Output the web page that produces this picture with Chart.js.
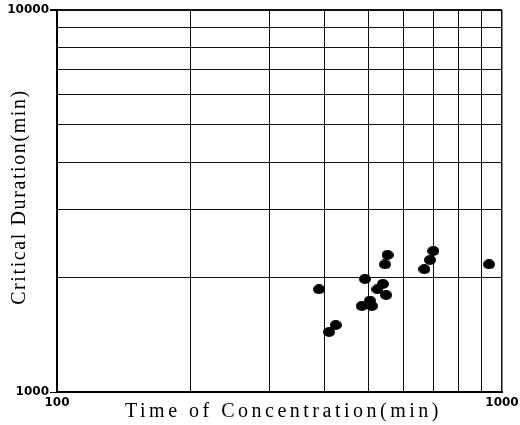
<!DOCTYPE html>
<html>
<head>
<meta charset="utf-8">
<script src="https://cdn.jsdelivr.net/npm/chart.js@4/dist/chart.umd.min.js"></script>
<style>
  html, body { margin: 0; padding: 0; background: #fff; }
  canvas { display: block; }
</style>
</head>
<body>
<canvas id="chart" width="520" height="425"></canvas>
<script>
// Observed watershed pairs: time of concentration vs critical duration (minutes)
const timeOfConcentration = [388, 409, 423, 492, 484, 505, 510, 525, 540, 549, 546, 553, 669, 689, 701, 935];
const criticalDuration    = [1857, 1436, 1497, 1976, 1679, 1734, 1679, 1857, 1918, 1794, 2159, 2284, 2096, 2216, 2340, 2159];

// Decade grid lines and the few labelled ticks
const xGridValues = [100, 200, 300, 400, 500, 600, 700, 800, 900, 1000];
const yGridValues = [1000, 2000, 3000, 4000, 5000, 6000, 7000, 8000, 9000, 10000];
const xTickLabels = [100, 1000];
const yTickLabels = [1000, 10000];

const xTitle = 'Time of Concentration(min)';
const yTitle = 'Critical Duration(min)';

// Slightly flattened round marker
function makeMarker(w, h) {
  const c = document.createElement('canvas');
  c.width = w; c.height = h;
  const g = c.getContext('2d');
  g.fillStyle = '#000';
  g.beginPath();
  g.ellipse(w / 2, h / 2, w / 2, h / 2, 0, 0, Math.PI * 2);
  g.fill();
  return c;
}
const marker = makeMarker(12, 10);

const points = timeOfConcentration.map((x, i) => ({ x: x, y: criticalDuration[i] }));

// Axis titles drawn with letter spacing
const axisTitles = {
  id: 'axisTitles',
  afterDraw(chart) {
    const { ctx, chartArea } = chart;
    ctx.save();
    ctx.fillStyle = '#000';
    ctx.textAlign = 'center';
    ctx.textBaseline = 'alphabetic';

    ctx.font = '20px "Liberation Serif"';
    ctx.letterSpacing = '3.5px';
    ctx.fillText(xTitle, (chartArea.left + chartArea.right) / 2 + 4, 417);

    ctx.letterSpacing = '1.6px';
    ctx.translate(25, (chartArea.top + chartArea.bottom) / 2 - 4);
    ctx.rotate(-Math.PI / 2);
    ctx.fillText(yTitle, 0, 0);
    ctx.restore();
  }
};

const tickFont = { family: 'DejaVu Sans', size: 12, weight: 'bold' };

new Chart(document.getElementById('chart'), {
  type: 'scatter',
  data: {
    datasets: [{
      data: points,
      pointStyle: marker,
      pointRadius: 6,
      pointHoverRadius: 6,
      backgroundColor: '#000',
      borderColor: '#000'
    }]
  },
  options: {
    responsive: false,
    devicePixelRatio: 1,
    animation: false,
    events: [],
    layout: { padding: { top: 10, right: 18, left: 0, bottom: 0 } },
    plugins: {
      legend: { display: false },
      tooltip: { enabled: false }
    },
    scales: {
      x: {
        type: 'logarithmic',
        min: 100,
        max: 1000,
        afterBuildTicks: s => { s.ticks = xGridValues.map(v => ({ value: v })); },
        afterFit: s => { s.height = 33; s.paddingLeft = 0; s.paddingRight = 0; },
        ticks: {
          autoSkip: false,
          maxRotation: 0,
          padding: 4,
          color: '#000',
          font: tickFont,
          callback: v => xTickLabels.includes(v) ? String(v) : ''
        },
        grid: {
          color: '#111',
          lineWidth: c => (c.tick && c.tick.value === 1000) ? 1.5 : 1,
          drawTicks: false
        },
        border: { color: '#000', width: 2 }
      },
      y: {
        type: 'logarithmic',
        min: 1000,
        max: 10000,
        afterBuildTicks: s => { s.ticks = yGridValues.map(v => ({ value: v })); },
        afterFit: s => { s.width = 57; s.paddingTop = 0; s.paddingBottom = 0; },
        ticks: {
          autoSkip: false,
          padding: 1,
          color: '#000',
          font: tickFont,
          callback: v => yTickLabels.includes(v) ? String(v) : ''
        },
        grid: {
          color: '#111',
          lineWidth: c => (c.tick && c.tick.value === 10000) ? 2 : 1,
          tickLength: 7,
          tickColor: c => (c.tick && yTickLabels.includes(c.tick.value)) ? '#000' : 'rgba(0,0,0,0)'
        },
        border: { color: '#000', width: 2 }
      }
    }
  },
  plugins: [axisTitles]
});
</script>
</body>
</html>
